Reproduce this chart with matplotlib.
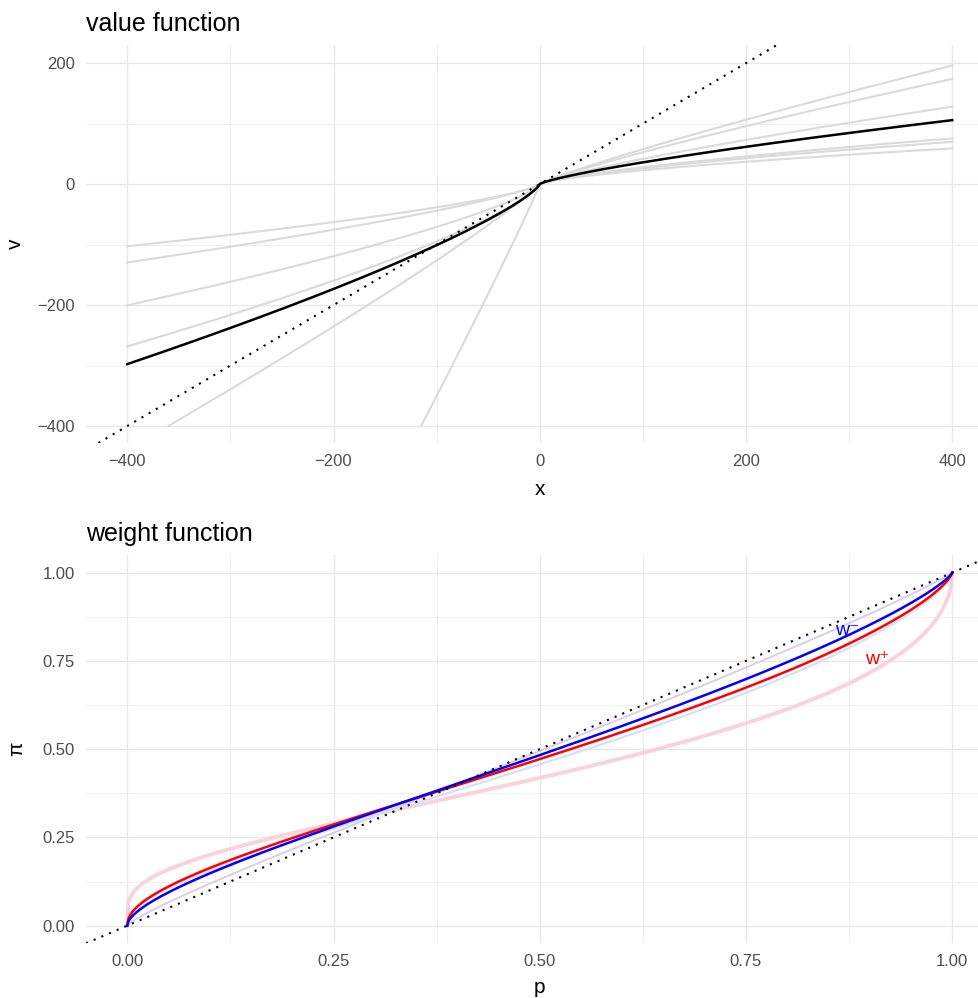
import numpy as np
import matplotlib.pyplot as plt
from matplotlib.ticker import MultipleLocator

plt.rcParams['font.family'] = ['Liberation Sans', 'DejaVu Sans']

# value function: individual fits (gain exponent, loss exponent, loss aversion)
gain_alpha = [0.881, 0.861, 0.810, 0.722, 0.709, 0.681]
loss_beta = [0.95, 0.90, 0.75, 0.75, 0.78, 0.71]
loss_lambda = [4.41, 2.00, 3.00, 2.24, 1.21, 1.46]
mean_alpha, mean_beta, mean_lambda = 0.778, 0.78, 2.78

# weight function (Prelec): individual fits and group estimates
faint_gamma = [0.51, 0.922, 0.72]
faint_delta = [1.05, 0.987, 1.02]
faint_colors = ['#f9d3db', '#dccde2', '#d3e2f7']
faint_widths = [2.8, 1.4, 1.6]
gain_gamma, gain_delta = 0.734, 0.983
loss_gamma, loss_delta = 0.804, 0.977

x_ticks = [-400, -200, 0, 200, 400]
v_ticks = [-400, -200, 0, 200]
p_ticks = [0.0, 0.25, 0.5, 0.75, 1.0]


def value(x, a, b, lam):
    return np.where(x >= 0, np.abs(x) ** a, -lam * np.abs(x) ** b)


def prelec(p, g, d):
    w = np.exp(-d * (-np.log(np.clip(p, 1e-12, 1))) ** g)
    w[p <= 0] = 0
    return w


def style(ax, major, minor):
    ax.xaxis.set_major_locator(MultipleLocator(major[0]))
    ax.xaxis.set_minor_locator(MultipleLocator(minor[0]))
    ax.yaxis.set_major_locator(MultipleLocator(major[1]))
    ax.yaxis.set_minor_locator(MultipleLocator(minor[1]))
    ax.grid(which='major', color='#e8e8e8', lw=1.0)
    ax.grid(which='minor', color='#efefef', lw=0.7)
    ax.set_axisbelow(True)
    for s in ax.spines.values():
        s.set_visible(False)
    ax.tick_params(which='both', length=0, labelsize=12, labelcolor='#4d4d4d')
    ax.tick_params(axis='y', pad=8)
    ax.tick_params(axis='x', pad=8)


fig = plt.figure(figsize=(9.79, 9.98), dpi=100)
W, H = 979, 998
left, right = 86, 993.5

ax1 = fig.add_axes([left / W, (H - 443) / H, (right - left) / W, (443 - 45) / H])
x = np.linspace(-400, 400, 1601)
for a, b, lam in zip(gain_alpha, loss_beta, loss_lambda):
    v = value(x, a, b, lam)
    v[v < -400] = np.nan
    ax1.plot(x, v, color='#dadada', lw=1.5, zorder=2)
ax1.plot(x, value(x, mean_alpha, mean_beta, mean_lambda), color='black', lw=1.8, zorder=3)
ax1.axline((0, 0), slope=1, color='black', lw=1.5, linestyle=(0, (1, 3)), zorder=4)
ax1.set_xlim(-440, 440)
ax1.set_ylim(-428, 230)
style(ax1, (200, 200), (100, 100))
ax1.set_yticks(v_ticks)
ax1.set_xlabel('x', fontsize=15, labelpad=8)
ax1.set_ylabel('v', fontsize=15, labelpad=9)
ax1.set_title('value function', loc='left', fontsize=18, pad=10)

ax2 = fig.add_axes([left / W, (H - 943.3) / H, (right - left) / W, (943.3 - 555) / H])
p = np.linspace(0, 1, 801)
for g, d, c, lw in zip(faint_gamma, faint_delta, faint_colors, faint_widths):
    ax2.plot(p, prelec(p, g, d), color=c, lw=lw, zorder=2)
ax2.plot(p, prelec(p, gain_gamma, gain_delta), color='red', lw=1.8, zorder=3)
ax2.plot(p, prelec(p, loss_gamma, loss_delta), color='blue', lw=1.8, zorder=3)
ax2.axline((0, 0), slope=1, color='black', lw=1.5, linestyle=(0, (1, 3)), zorder=4)
ax2.text(0.873, 0.835, 'w\u207b', color='blue', fontsize=14, ha='center', va='center')
ax2.text(0.909, 0.753, 'w\u207a', color='red', fontsize=14, ha='center', va='center')
ax2.set_xlim(-0.05, 1.05)
ax2.set_ylim(-0.05, 1.05)
style(ax2, (0.25, 0.25), (0.125, 0.125))
ax2.set_xticks(p_ticks)
ax2.set_yticks(p_ticks)
ax2.xaxis.set_major_formatter(lambda t, pos: f'{t:.2f}')
ax2.yaxis.set_major_formatter(lambda t, pos: f'{t:.2f}')
ax2.set_xlabel('p', fontsize=15, labelpad=6)
ax2.set_ylabel('\u03c0', fontsize=15, labelpad=12)
ax2.set_title('weight function', loc='left', fontsize=18, pad=10)

fig.savefig('out.png', dpi=100)
